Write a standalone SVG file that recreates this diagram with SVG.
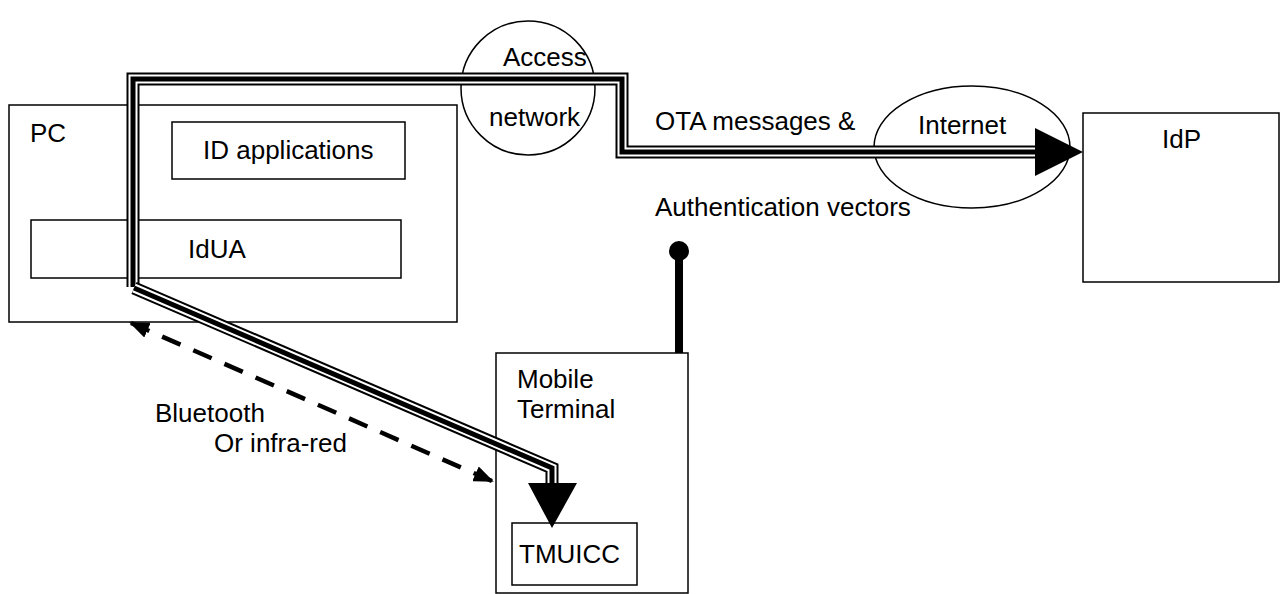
<svg xmlns="http://www.w3.org/2000/svg" width="1287" height="594" viewBox="0 0 1287 594">
<defs>
<style>
.box{fill:none;stroke:#000;stroke-width:1.5}
.ell{fill:none;stroke:#000;stroke-width:1.5}
.t{font-family:"Liberation Sans",Arial,sans-serif;font-size:26px;fill:#000}
.tubeA{fill:none;stroke:#000;stroke-width:13;stroke-linejoin:miter}
.tubeB{fill:none;stroke:#fff;stroke-width:9;stroke-linejoin:miter}
.tubeC{fill:none;stroke:#000;stroke-width:5;stroke-linejoin:miter}
.dash{fill:none;stroke:#000;stroke-width:4.5;stroke-dasharray:20 14}
</style>
<marker id="ah" viewBox="0 0 20 16" refX="18" refY="8" markerWidth="20" markerHeight="16" markerUnits="userSpaceOnUse" orient="auto-start-reverse">
<path d="M0,0 L20,8 L0,16 Z" fill="#000"/>
</marker>
</defs>
<rect width="1287" height="594" fill="#fff"/>

<g id="pc">
<rect class="box" x="9" y="105" width="448" height="217"/>
<text class="t" x="30" y="142">PC</text>
</g>
<g id="id-applications">
<rect class="box" x="172" y="122" width="233" height="57"/>
<text class="t" x="203" y="159">ID applications</text>
</g>
<g id="idua">
<rect class="box" x="31" y="220" width="370" height="58"/>
<text class="t" x="188" y="258">IdUA</text>
</g>
<g id="access-network">
<ellipse class="ell" cx="528" cy="88" rx="67" ry="67"/>
<text class="t" x="503" y="66">Access</text>
<text class="t" x="489" y="126">network</text>
</g>
<g id="internet">
<ellipse class="ell" cx="972" cy="147" rx="98" ry="61"/>
<text class="t" x="918" y="134">Internet</text>
</g>
<g id="idp">
<rect class="box" x="1083" y="113" width="196" height="169"/>
<text class="t" x="1162" y="148">IdP</text>
</g>
<g id="mobile-terminal">
<rect class="box" x="496" y="353" width="192" height="240"/>
<text class="t" x="517" y="388">Mobile</text>
<text class="t" x="517" y="418">Terminal</text>
</g>
<g id="tmuicc">
<rect class="box" x="512" y="523" width="125" height="62"/>
<text class="t" x="519" y="563">TMUICC</text>
</g>

<g id="connectors">
<path class="tubeA" d="M133,287 V79 H622 V152 H1040"/>
<path class="tubeB" d="M133,287 V79 H622 V152 H1040"/>
<path class="tubeC" d="M133,287 V79 H622 V152 H1040"/>
<polygon points="1035,128 1083,152 1035,176" fill="#000"/>
<path class="tubeA" d="M134,288 L552,468 V485"/>
<path class="tubeB" d="M134,288 L552,468 V485"/>
<path class="tubeC" d="M134,288 L552,468 V485"/>
<polygon points="528,483 577,483 552,528" fill="#000"/>
<line class="dash" x1="131" y1="323" x2="492" y2="481" marker-start="url(#ah)" marker-end="url(#ah)"/>
<line x1="679" y1="251" x2="679" y2="353" stroke="#000" stroke-width="8"/>
<circle cx="679" cy="251" r="10" fill="#000"/>
</g>

<g id="labels">
<text class="t" x="655" y="130">OTA messages &amp;</text>
<text class="t" x="655" y="216">Authentication vectors</text>
<text class="t" x="155" y="422">Bluetooth</text>
<text class="t" x="214" y="452">Or infra-red</text>
</g>
</svg>
